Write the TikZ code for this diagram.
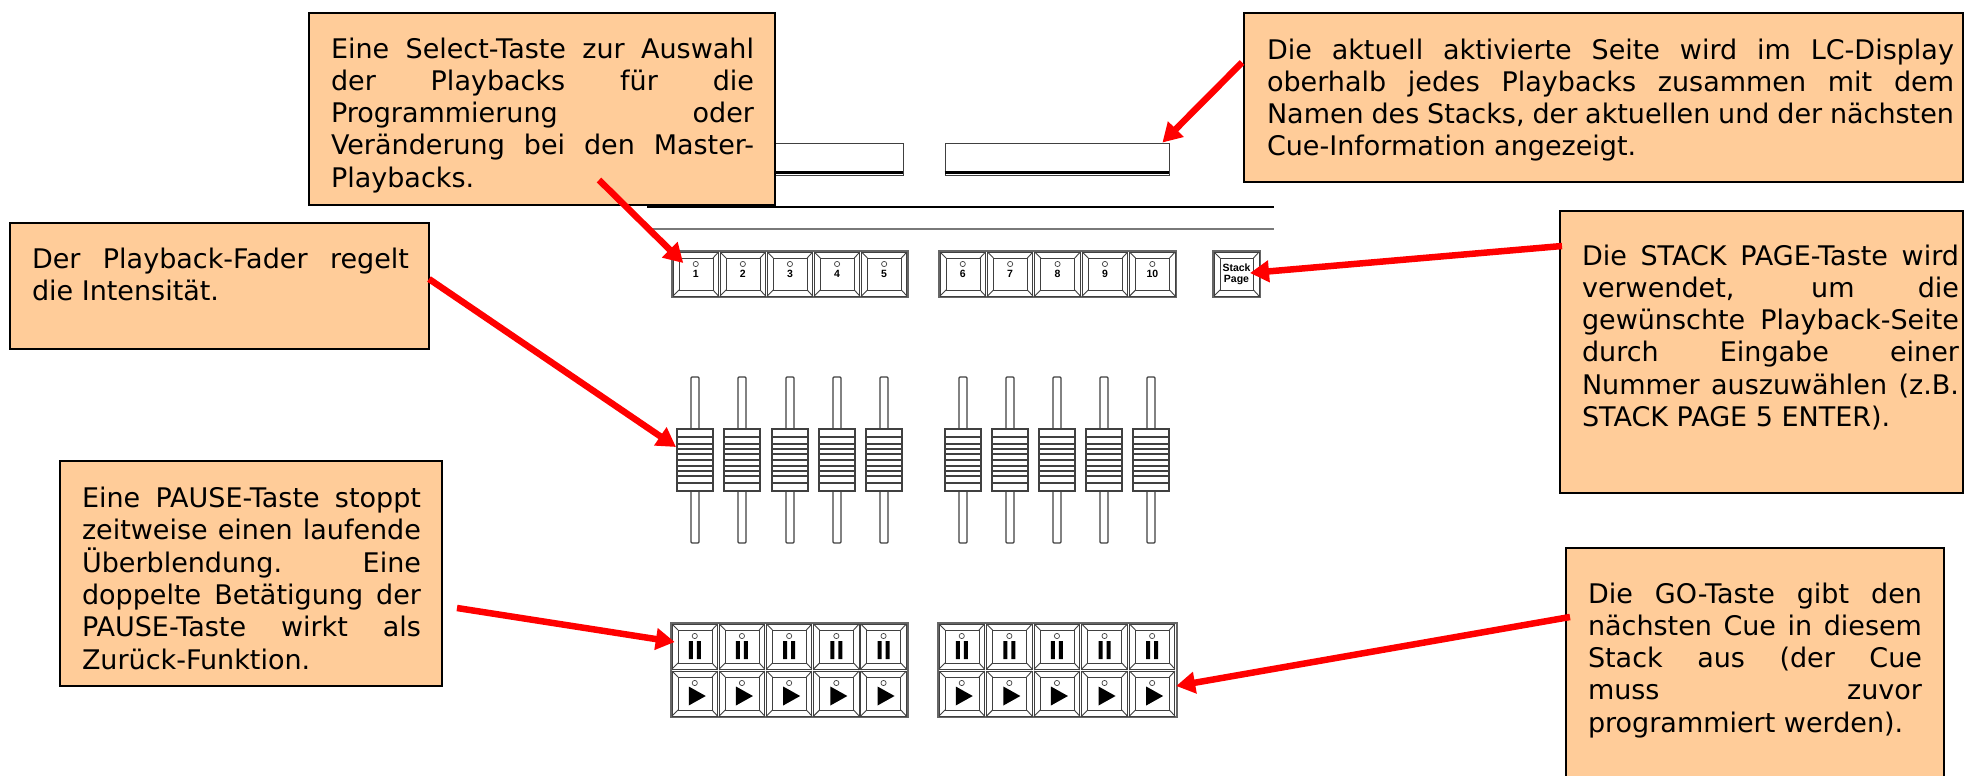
\documentclass[tikz,border=0pt]{standalone}
\usepackage{fontspec}
\setmainfont{DejaVu Sans}
\newfontfamily\keyfont{Liberation Sans}[BoldFont={Liberation Sans Bold}]
\usetikzlibrary{arrows.meta,calc}
\definecolor{noteorange}{HTML}{FFCC99}
\definecolor{keygray}{HTML}{404040}
\tikzset{
  notebox/.style={draw=black,line width=2pt,fill=noteorange,inner sep=0pt,outer sep=0pt,anchor=north west,font=\fontsize{27pt}{32pt}\selectfont},
  keyline/.style={draw=keygray,line width=0.9pt},
  keynode/.style={keyline,inner sep=0pt,outer sep=0pt,font=\keyfont\bfseries\fontsize{10.5pt}{11pt}\selectfont},
  groupline/.style={draw=keygray!80,line width=1.6pt},
  pointer/.style={draw=red,line width=6.5pt,-{Triangle[length=19pt,width=21pt]},shorten <=0pt},
  faderline/.style={draw=keygray,line width=1.1pt}
}
% one line of a note: fixed pitch, justified when \jl, ragged when \rl
\newcommand\jl[1]{\hbox to \hsize{\vrule height 24pt depth 8.3pt width 0pt #1}}
\newcommand\rl[1]{\hbox{\vrule height 24pt depth 8.3pt width 0pt #1}}
% name, x1, y1, x2, y2, text left, text right, first baseline, lines
\newcommand\notebox[9]{%
  \node[notebox] (#1) at (#2,#3) {\hbox to \dimexpr #4pt-#2pt\relax{\kern\dimexpr #6pt-#2pt\relax
    \vbox to \dimexpr #5pt-#3pt\relax{\hsize=\dimexpr #7pt-#6pt\relax\offinterlineskip
      \kern\dimexpr #8pt-#3pt-24pt\relax #9\vss}\hss}};}
% name, x, y, w, h, text
\newcommand\keybody[6]{%
  \node[keynode,minimum width=#4pt,minimum height=#5pt] (#1) at ({#2+#4/2},{#3+#5/2}) {#6};
  \draw[keyline] ([shift={(6,6)}]#1.north west) rectangle ([shift={(-5.5,-6)}]#1.south east);
  \draw[keyline] (#1.north west) -- ++(6,6) (#1.north east) -- ++(-5.5,6)
                 (#1.south west) -- ++(6,-6) (#1.south east) -- ++(-5.5,-6);}
\newcommand\keycap[6]{%
  \keybody{#1}{#2}{#3}{#4}{#5}{#6}
  \draw[keyline,line width=0.7pt] ([shift={(0,12)}]#1.north) circle (2.6);}
\newcommand\pausesign[1]{%
  \fill[black] ([shift={(-6,17)}]#1.north) rectangle ([shift={(-2,35)}]#1.north)
               ([shift={(2,17)}]#1.north) rectangle ([shift={(6,35)}]#1.north);}
\newcommand\playsign[1]{%
  \fill[black] ([shift={(-6,15.5)}]#1.north) -- ([shift={(11,25)}]#1.north) -- ([shift={(-6,34.5)}]#1.north) -- cycle;}
% name, centre x
\newcommand\fadercap[2]{%
  \draw[faderline,rounded corners=1pt] ({#2-4},377) rectangle ({#2+4},543);
  \node[draw=keygray,line width=1.1pt,fill=white,inner sep=0pt,outer sep=0pt,minimum width=36pt,minimum height=62pt] (#1) at (#2,460) {};
  \foreach \ly in {437,444,449,454,466,471,476,483}
    \draw[faderline] ({#2-18},\ly) -- ({#2+18},\ly);
  \draw[faderline,line width=1.3pt] ({#2-19},460) -- ({#2+19},460);}
\begin{document}
\begin{tikzpicture}[x=1pt,y=-1pt]
\clip (0,0) rectangle (1966,776);
\fill[white] (0,0) rectangle (1966,776);
% displays
\node[keyline,fill=white,inner sep=0pt,minimum width=224pt,minimum height=32pt] (disp1) at (791,159) {};
\node[keyline,fill=white,inner sep=0pt,minimum width=224pt,minimum height=32pt] (disp2) at (1057,159) {};
\draw[black,line width=2.4pt] (disp1.south west)++(0,-3) -- ++(224,0) (disp2.south west)++(0,-3) -- ++(224,0);
% rails
\coordinate (railA) at (647,207); \coordinate (railB) at (1274,207);
\coordinate (railC) at (647,229); \coordinate (railD) at (1274,229);
\draw[black,line width=2.4pt] (railA) -- (railB);
\draw[keygray!70,line width=1.3pt] (railC) -- (railD);
% select keys
\draw[groupline] (672,251) rectangle (908,297);
\draw[groupline] (939,251) rectangle (1176,297);
\draw[groupline] (1213,251) rectangle (1260,297);
\foreach \i in {1,...,5} {\keycap{sel\i}{673+(\i-1)*47.1}{252}{45.5}{44}{\i}}
\foreach \i [evaluate=\i as \n using int(\i+5)] in {1,...,5} {\keycap{sel\n}{940+(\i-1)*47.4}{252}{45.5}{44}{\n}}
\keybody{stackkey}{1214}{252}{45}{44}{\raisebox{-4pt}{\vbox{\hbox to 36pt{\hss Stack\hss}\hbox to 36pt{\hss Page\hss}}}}
% faders
\foreach \i/\cx in {1/695,2/742,3/790,4/837,5/884,6/963,7/1010,8/1057,9/1104,10/1151} {\fadercap{fad\i}{\cx}}
% pause and go keys
\draw[groupline] (671,623) rectangle (908,717);
\draw[groupline] (938,623) rectangle (1177,717);
\foreach \i in {1,...,5} {
  \keycap{pau\i}{672+(\i-1)*47.2}{624}{45.5}{45}{}
  \pausesign{pau\i}
  \keycap{go\i}{672+(\i-1)*47.2}{671}{45.5}{45}{}
  \playsign{go\i}}
\foreach \i [evaluate=\i as \n using int(\i+5)] in {1,...,5} {
  \keycap{pau\n}{939+(\i-1)*47.6}{624}{45.5}{45}{}
  \pausesign{pau\n}
  \keycap{go\n}{939+(\i-1)*47.6}{671}{45.5}{45}{}
  \playsign{go\n}}
% notes
\notebox{nSelect}{309}{13}{775}{205}{331}{754}{58}{%
  \jl{Eine Select-Taste zur Auswahl}\jl{der Playbacks für die}\jl{Programmierung oder}\jl{Veränderung bei den Master-}\rl{Playbacks.}}
\notebox{nPage}{1244}{13}{1963}{182}{1267}{1954}{59}{%
  \jl{Die aktuell aktivierte Seite wird im LC-Display}\jl{oberhalb jedes Playbacks zusammen mit dem}\jl{Namen des Stacks, der aktuellen und der nächsten}\rl{Cue-Information angezeigt.}}
\notebox{nFader}{10}{223}{429}{349}{32}{409}{268}{%
  \jl{Der Playback-Fader regelt}\rl{die Intensität.}}
\notebox{nStack}{1560}{211}{1963}{493}{1582}{1959}{265}{%
  \jl{Die STACK PAGE-Taste wird}\jl{verwendet, um die}\jl{gewünschte Playback-Seite}\jl{durch Eingabe einer}\jl{Nummer auszuwählen (z.B.}\rl{STACK PAGE 5 ENTER).}}
\notebox{nPause}{60}{461}{442}{686}{82}{421}{507}{%
  \jl{Eine PAUSE-Taste stoppt}\jl{zeitweise einen laufende}\jl{Überblendung. Eine}\jl{doppelte Betätigung der}\jl{PAUSE-Taste wirkt als}\rl{Zurück-Funktion.}}
\notebox{nGo}{1566}{548}{1944}{790}{1588}{1922}{603}{%
  \jl{Die GO-Taste gibt den}\jl{nächsten Cue in diesem}\jl{Stack aus (der Cue}\jl{muss zuvor}\rl{programmiert werden).}}
% connectors
\draw[pointer] ([shift={(57,71)}]nSelect.center) -- ([shift={(-12.5,-11)}]sel1.center);
\draw[pointer] ([shift={(-2,-35)}]nPage.west) -- ([shift={(-7,0)}]disp2.north east);
\draw[pointer] ([shift={(2,-106)}]nStack.west) -- ([shift={(13.5,-1)}]stackkey.center);
\draw[pointer] ([shift={(0,-7)}]nFader.east) -- ([shift={(-1,-13)}]fad1.west);
\draw[pointer] ([shift={(15,34.5)}]nPause.east) -- ([shift={(-20,-4.5)}]pau1.center);
\draw[pointer] ([shift={(4,-52)}]nGo.west) -- ([shift={(24,-7.5)}]go10.center);
\end{tikzpicture}
\end{document}
